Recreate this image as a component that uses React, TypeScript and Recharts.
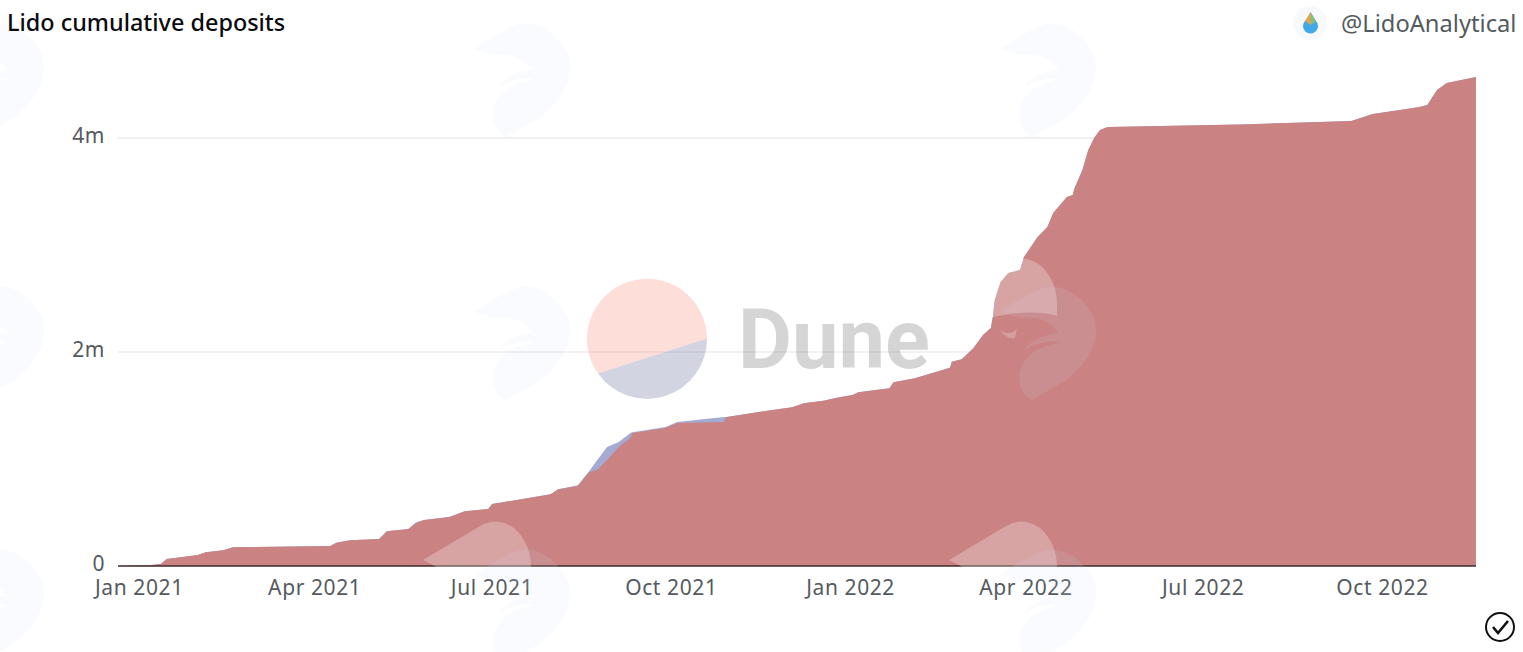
import { Area, AreaChart, CartesianGrid, XAxis, YAxis } from 'recharts';

const FONT = '"Noto Sans", sans-serif';

// dates of the cumulative curve
const dates = [
  '2020-12-21', '2021-01-07', '2021-01-12', '2021-01-15', '2021-01-31', '2021-02-04', '2021-02-13', '2021-02-18',
  '2021-04-09', '2021-04-12', '2021-04-19', '2021-05-04', '2021-05-08', '2021-05-19', '2021-05-23', '2021-05-27',
  '2021-06-09', '2021-06-17', '2021-06-29', '2021-07-01', '2021-07-31', '2021-08-04', '2021-08-14', '2021-08-20',
  '2021-08-24', '2021-08-29', '2021-09-04', '2021-09-10', '2021-09-11', '2021-09-28', '2021-10-04', '2021-10-28',
  '2021-10-29', '2021-11-15', '2021-12-02', '2021-12-08', '2021-12-18', '2021-12-25', '2022-01-02', '2022-01-05',
  '2022-01-21', '2022-01-23', '2022-02-03', '2022-02-21', '2022-02-22', '2022-02-27', '2022-03-05', '2022-03-10',
  '2022-03-14', '2022-03-15', '2022-03-16', '2022-03-19', '2022-03-23', '2022-03-29', '2022-03-31', '2022-04-07',
  '2022-04-12', '2022-04-15', '2022-04-22', '2022-04-25', '2022-04-26', '2022-04-30', '2022-05-03', '2022-05-06',
  '2022-05-09', '2022-05-13', '2022-07-20', '2022-09-15', '2022-09-26', '2022-10-10', '2022-10-20', '2022-10-24',
  '2022-10-29', '2022-11-03', '2022-11-18',
];

const redValues = [
  0, 0.009, 0.019, 0.065, 0.103, 0.128, 0.147, 0.175,
  0.187, 0.218, 0.24, 0.252, 0.324, 0.346, 0.399, 0.43,
  0.455, 0.511, 0.533, 0.579, 0.67, 0.717, 0.748, 0.881,
  0.897, 0.99, 1.112, 1.196, 1.243, 1.29, 1.336, 1.346,
  1.39, 1.439, 1.483, 1.521, 1.545, 1.573, 1.598, 1.623,
  1.661, 1.717, 1.754, 1.853, 1.909, 1.932, 2.035, 2.159,
  2.224, 2.327, 2.486, 2.654, 2.738, 2.766, 2.888, 3.075,
  3.168, 3.299, 3.449, 3.467, 3.533, 3.701, 3.888, 4.0,
  4.075, 4.103, 4.126, 4.159, 4.224, 4.262, 4.29, 4.308,
  4.449, 4.514, 4.57,
];

const blueValues = [
  0, 0.009, 0.019, 0.065, 0.103, 0.128, 0.147, 0.175,
  0.187, 0.218, 0.24, 0.252, 0.324, 0.346, 0.41, 0.43,
  0.46, 0.511, 0.533, 0.579, 0.67, 0.717, 0.755, 0.89,
  0.99, 1.112, 1.159, 1.243, 1.25, 1.3, 1.346, 1.393,
  1.393, 1.439, 1.483, 1.521, 1.545, 1.573, 1.598, 1.623,
  1.661, 1.717, 1.754, 1.853, 1.909, 1.932, 2.035, 2.159,
  2.224, 2.327, 2.486, 2.654, 2.738, 2.766, 2.888, 3.075,
  3.168, 3.299, 3.449, 3.467, 3.533, 3.701, 3.888, 4.0,
  4.075, 4.103, 4.126, 4.159, 4.224, 4.262, 4.29, 4.308,
  4.449, 4.514, 4.57,
];

const xTickDates = ['2021-01-01', '2021-04-01', '2021-07-01', '2021-10-01', '2022-01-01', '2022-04-01', '2022-07-01', '2022-10-01'];
const xTickLabels = ['Jan 2021', 'Apr 2021', 'Jul 2021', 'Oct 2021', 'Jan 2022', 'Apr 2022', 'Jul 2022', 'Oct 2022'];
const yTicks = [0, 2, 4];
const yTickLabels = ['0', '2m', '4m'];

const toTime = (d: string) => Date.parse(d + 'T00:00:00Z');
const chartData = dates.map((d, i) => ({ time: toTime(d), blue: blueValues[i], red: redValues[i] }));
const xTicks = xTickDates.map(toTime);

function Watermark() {
  const cols = [-1052, -526, 0, 526];
  const rows = [-263, 0, 263];
  return (
    <svg width={1523} height={652} style={{ position: 'absolute', left: 0, top: 0, pointerEvents: 'none' }}>
      {cols.map((cx) =>
        rows.map((cy) => (
          <g key={`${cx}-${cy}`} transform={`translate(${cx} ${cy})`}>
            <path
              d="M949,297 L1006,263 Q1023,253 1040,265 Q1057,280 1057,305 L1057,316 C1040,310 1015,312 990,318 Z"
              fill="rgba(255,255,255,0.27)"
            />
            <path d="M1000,330 C1006,334 1012,334 1017,329 L1015,338 C1010,340 1004,336 1000,330 Z" fill="rgba(255,255,255,0.22)" />
            <path
              d="M1000,312 C1010,305 1025,295 1043,288 C1065,282 1085,298 1095,320 C1100,345 1085,365 1067,380 L1032,400 C1015,392 1015,365 1032,353 C1040,347 1050,345 1060,342 C1045,340 1033,345 1025,350 C1030,340 1045,334 1059,333 C1050,322 1040,316 1020,318 Z"
              fill="rgba(210,225,248,0.13)"
            />
          </g>
        ))
      )}
      <path d="M598,373.5 A60,60 0 1 1 707,338.5 Z" fill="rgba(249,160,143,0.35)" />
      <path d="M598,373.5 A60,60 0 0 0 707,338.5 Z" fill="rgba(129,132,172,0.35)" />
      <text x={738} y={368} fontFamily="Roboto, sans-serif" fontWeight={700} fontSize={83} fill="rgba(136,136,136,0.35)">
        Dune
      </text>
    </svg>
  );
}

function Header() {
  return (
    <svg width={1523} height={652} style={{ position: 'absolute', left: 0, top: 0, pointerEvents: 'none' }}>
      <text x={7} y={31} fontFamily={FONT} fontWeight={500} fontSize={23.4} fill="#0b0b0f">
        Lido cumulative deposits
      </text>
      <text x={1341} y={32} fontFamily={FONT} fontSize={23.7} fill="#555a60">
        @LidoAnalytical
      </text>
      <circle cx={1310} cy={23} r={17} fill="#f7f9fc" />
      <circle cx={1310.5} cy={26} r={7.5} fill="#3fa9ea" />
      <path d="M1310.5,12 L1316,21 L1310.5,25 L1305,21 Z" fill="#e8a24a" />
      <path d="M1310.5,25 L1316,21 L1310.5,12 Z" fill="#7cc28a" />
      <circle cx={1500} cy={627} r={14} fill="none" stroke="#111" strokeWidth={2} />
      <path d="M1493,627 L1498,633 L1508,621" fill="none" stroke="#111" strokeWidth={2.6} />
    </svg>
  );
}

const tickStyle = { fontFamily: FONT, fontSize: 21, letterSpacing: 0.6, fill: '#555a60' };

export default function App() {
  return (
    <div style={{ position: 'fixed', left: 0, top: 0, width: 1523, height: 652, background: '#fff', overflow: 'hidden' }}>
      <AreaChart width={1523} height={652} data={chartData} margin={{ top: 31, right: 47, bottom: 0, left: 0 }}>
        <CartesianGrid vertical={false} horizontalValues={[2, 4]} stroke="#ececec" strokeWidth={1.5} />
        <XAxis
          dataKey="time"
          type="number"
          scale="time"
          domain={[toTime('2020-12-21'), toTime('2022-11-18')]}
          ticks={xTicks}
          tickFormatter={(v: number) => xTickLabels[xTicks.indexOf(v)]}
          height={86}
          interval={0}
          tickLine={false}
          axisLine={{ stroke: '#3f2a2a', strokeWidth: 1.3 }}
          tickMargin={8}
          tick={tickStyle}
        />
        <YAxis
          type="number"
          width={118}
          domain={[0, 5]}
          ticks={yTicks}
          tickFormatter={(v: number) => yTickLabels[yTicks.indexOf(v)]}
          axisLine={false}
          tickLine={false}
          tickMargin={7}
          dy={-2}
          tick={tickStyle}
        />
        <Area dataKey="blue" type="linear" stroke="none" fill="#a5aad2" fillOpacity={1} isAnimationActive={false} dot={false} activeDot={false} />
        <Area dataKey="red" type="linear" stroke="none" fill="#ca8282" fillOpacity={1} isAnimationActive={false} dot={false} activeDot={false} />
      </AreaChart>
      <Watermark />
      <Header />
    </div>
  );
}
